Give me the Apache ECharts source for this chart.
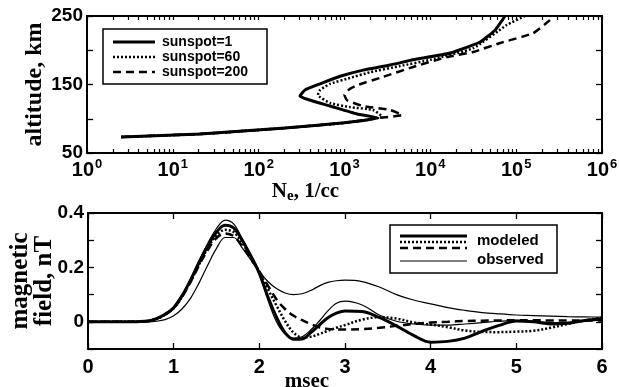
<!DOCTYPE html>
<html>
<head>
<meta charset="utf-8">
<script src="https://cdn.jsdelivr.net/npm/echarts@6/dist/echarts.min.js"></script>
<style>
  html, body { margin: 0; padding: 0; background: #fff; }
  #chart { width: 619px; height: 387px; }
</style>
</head>
<body>
<div id="chart"></div>
<script>
// ---- top panel: electron density profiles (Ne, altitude km) ----
const sunspotNames = ['sunspot=1', 'sunspot=60', 'sunspot=200']
const neSunspot1 = [[2.5, 73.4], [20.8, 77.7], [203, 86.5], [1000, 94], [2460, 101], [1400, 107], [680, 118.6],
    [400, 127], [303, 133], [347, 142], [520, 151], [890, 162], [1650, 171], [3400, 178.5], [6300, 186],
    [17000, 196], [38000, 212], [57000, 229.6], [69000, 244], [74000, 250]]
const neSunspot60 = [[2.5, 73.4], [20.8, 77.7], [203, 86.5], [1000, 94], [2460, 101], [2750, 102.6], [2150, 112.8],
    [1150, 117], [680, 123], [490, 134.7], [520, 142], [680, 151], [1150, 159.5], [2000, 168], [4450, 177],
    [10000, 186], [31600, 203], [78000, 237], [126000, 250]]
const neSunspot200 = [[2.5, 73.4], [20.8, 77.7], [203, 86.5], [1000, 94], [2460, 101], [4700, 105.5], [3400, 112.8],
    [1650, 118.6], [1070, 127], [1000, 134.7], [1150, 143.4], [1400, 149], [2800, 161], [6300, 175.6],
    [15600, 190], [31600, 197.5], [65000, 210.6], [158000, 225], [247000, 244], [270000, 250]]
// log axis ticks: one per decade plus the 2..9 minor marks
const decadeTicks = [1, 10, 100, 1000, 10000, 100000, 1000000]
const minorSteps = [2, 3, 4, 5, 6, 7, 8, 9]

// ---- bottom panel: magnetic field (nT) vs time (msec) ----
const timeMs = [0, 0.5, 0.7, 0.8, 0.9, 1.0, 1.1, 1.2, 1.3, 1.4, 1.5, 1.6, 1.7, 1.8, 1.9, 2.0, 2.1, 2.2, 2.3, 2.4,
    2.5, 2.6, 2.7, 2.8, 2.9, 3.0, 3.2, 3.4, 3.6, 3.8, 4.0, 4.2, 4.4, 4.6, 4.8, 5.0, 5.2, 5.4, 5.6, 5.8, 6.0]
const modeled1 = [0, 0, 0.003, 0.012, 0.028, 0.052, 0.097, 0.155, 0.22, 0.28, 0.33, 0.355, 0.345, 0.3, 0.243, 0.178,
    0.092, 0.017, -0.04, -0.064, -0.063, -0.04, -0.012, 0.015, 0.032, 0.04, 0.038, 0.016, -0.015, -0.05, -0.075,
    -0.072, -0.06, -0.035, -0.013, 0.003, 0.0, -0.008, -0.005, 0.005, 0.01]
const modeled2 = [0, 0, 0.003, 0.011, 0.026, 0.05, 0.094, 0.15, 0.213, 0.272, 0.318, 0.338, 0.33, 0.29, 0.24, 0.183,
    0.12, 0.06, 0.003, -0.04, -0.057, -0.055, -0.045, -0.033, -0.022, -0.012, 0.008, 0.017, 0.012, -0.002, -0.01,
    -0.02, -0.032, -0.037, -0.038, -0.036, -0.033, -0.022, -0.008, 0.005, 0.015]
const modeled3 = [0, 0, 0.003, 0.011, 0.026, 0.05, 0.093, 0.148, 0.21, 0.265, 0.308, 0.325, 0.315, 0.278, 0.232, 0.185,
    0.133, 0.083, 0.047, 0.022, 0.006, -0.008, -0.02, -0.026, -0.028, -0.028, -0.027, -0.022, -0.015, -0.008, -0.003,
    0.0, 0.003, 0.004, 0.005, 0.006, 0.006, 0.005, 0.005, 0.005, 0.005]
const observed1 = [0, 0, 0.003, 0.012, 0.03, 0.055, 0.1, 0.16, 0.228, 0.29, 0.343, 0.374, 0.36, 0.305, 0.243, 0.175,
    0.08, 0.0, -0.045, -0.06, -0.055, -0.03, 0.003, 0.04, 0.068, 0.076, 0.062, 0.025, 0.002, -0.008, -0.012,
    -0.012, -0.008, -0.003, 0.002, 0.005, 0.002, -0.003, -0.002, 0.003, 0.006]
const observed2 = [0, 0, 0.0, 0.002, 0.008, 0.022, 0.048, 0.088, 0.145, 0.21, 0.27, 0.31, 0.31, 0.272, 0.228, 0.185,
    0.148, 0.122, 0.106, 0.1, 0.103, 0.115, 0.132, 0.145, 0.151, 0.153, 0.148, 0.128, 0.1, 0.08, 0.066,
    0.052, 0.042, 0.034, 0.029, 0.025, 0.023, 0.021, 0.019, 0.018, 0.017]

const SANS = 'Liberation Sans'
const SERIF = 'Liberation Serif'
const BLACK = '#000'

function zip (xs, ys) {
    return xs.map((x, i) => [x, ys[i]])
}

// all tick positions of the log axis (decades and 2..9 in between)
const logTickValues = []
decadeTicks.forEach((d, i) => {
    logTickValues.push(d)
    if (i < decadeTicks.length - 1) {
        minorSteps.forEach(m => logTickValues.push(d * m))
    }
})

// axis with inward ticks, used for both the labelled and the mirrored sides
function frameAxis (extra) {
    const axis = Object.assign({
        nameMoveOverlap: false,
        axisLine: {show: true, onZero: false, lineStyle: {color: BLACK, width: 2}},
        axisTick: {show: true, inside: true, length: 6, lineStyle: {color: BLACK, width: 1.3}},
        splitLine: {show: false},
        axisLabel: {show: false}
    }, extra)
    if (axis.type === 'log') {
        axis.axisTick = {show: true, inside: true, length: 4, customValues: logTickValues,
            lineStyle: {color: BLACK, width: 1.2}}
    }
    return axis
}

function profileLine (name, data, type, width) {
    return {
        name: name, type: 'line', xAxisIndex: 0, yAxisIndex: 0, data: data,
        showSymbol: false, symbol: 'none', smooth: 0.15, silent: true,
        lineStyle: {color: BLACK, width: width, type: type}
    }
}

function fieldLine (name, values, type, width) {
    return {
        name: name, type: 'line', xAxisIndex: 2, yAxisIndex: 2, data: zip(timeMs, values),
        showSymbol: false, symbol: 'none', smooth: 0.35, silent: true,
        lineStyle: {color: BLACK, width: width, type: type}
    }
}

const logLabel = {
    show: true, margin: 5,
    customValues: decadeTicks,
    formatter: function (v) {
        return '{b|10}{s|' + Math.round(Math.log10(v)) + '}'
    },
    rich: {
        b: {fontFamily: SANS, fontWeight: 'bold', fontSize: 20, color: BLACK},
        s: {fontFamily: SANS, fontWeight: 'bold', fontSize: 13, color: BLACK, padding: [0, 0, 12, 1]}
    }
}

// legend drawn as graphics so that one entry can carry three line samples
function legendLine (x1, x2, y, type, width) {
    return {type: 'line', shape: {x1: x1, y1: y, x2: x2, y2: y}, style: {stroke: BLACK, lineWidth: width, lineDash: type}}
}
function legendText (x, y, text, size) {
    return {type: 'text', x: x, y: y, style: {text: text, fill: BLACK, font: 'bold ' + size + 'px ' + SANS, verticalAlign: 'middle'}}
}

const chart = echarts.init(document.getElementById('chart'), null, {renderer: 'canvas'})
chart.setOption({
    backgroundColor: '#fff',
    animation: false,
    grid: [
        {left: 87, right: 17, top: 16, height: 137, containLabel: false, outerBoundsMode: 'none'},
        {left: 88, right: 17, top: 213, height: 136, containLabel: false, outerBoundsMode: 'none'}
    ],
    xAxis: [
        frameAxis({
            type: 'log', logBase: 10, min: 1, max: 1000000, gridIndex: 0, position: 'bottom',
            axisLabel: logLabel,
            name: '{n|N}{sub|e}{n|, 1/cc}', nameLocation: 'middle', nameGap: 26,
            nameTextStyle: {
                padding: [0, 78, 0, 0],
                rich: {
                    n: {fontFamily: SERIF, fontWeight: 'bold', fontSize: 21, color: BLACK},
                    sub: {fontFamily: SERIF, fontWeight: 'bold', fontSize: 15, color: BLACK, padding: [10, 0, 0, 0]}
                }
            }
        }),
        frameAxis({type: 'log', logBase: 10, min: 1, max: 1000000, gridIndex: 0, position: 'top'}),
        frameAxis({
            type: 'value', min: 0, max: 6, interval: 1, gridIndex: 1, position: 'bottom',
            axisLabel: {show: true, margin: 8, fontFamily: SANS, fontWeight: 'bold', fontSize: 20, color: BLACK},
            name: 'msec', nameLocation: 'middle', nameGap: 22,
            nameTextStyle: {fontFamily: SERIF, fontWeight: 'bold', fontSize: 21, color: BLACK, padding: [0, 76, 0, 0]}
        }),
        frameAxis({type: 'value', min: 0, max: 6, interval: 1, gridIndex: 1, position: 'top'})
    ],
    yAxis: [
        frameAxis({
            type: 'value', min: 50, max: 250, interval: 50, gridIndex: 0, position: 'left',
            axisLabel: {
                show: true, margin: 4, fontFamily: SANS, fontWeight: 'bold', fontSize: 19, color: BLACK,
                formatter: v => (v % 100 === 50 ? String(v) : '')
            },
            name: 'altitude, km', nameLocation: 'middle', nameRotate: 90, nameGap: 40,
            nameTextStyle: {fontFamily: SERIF, fontWeight: 'bold', fontSize: 24, color: BLACK}
        }),
        frameAxis({type: 'value', min: 50, max: 250, interval: 50, gridIndex: 0, position: 'right'}),
        frameAxis({
            type: 'value', min: -0.1, max: 0.4, interval: 0.1, gridIndex: 1, position: 'left',
            axisLabel: {
                show: true, margin: 4, fontFamily: SANS, fontWeight: 'bold', fontSize: 19, color: BLACK,
                formatter: function (v) {
                    const r = Math.round(v * 10)
                    return (r >= 0 && r % 2 === 0) ? String(r / 10) : ''
                }
            },
            name: 'magnetic\nfield, nT', nameLocation: 'middle', nameRotate: 90, nameGap: 31,
            nameTextStyle: {fontFamily: SERIF, fontWeight: 'bold', fontSize: 25, lineHeight: 24, color: BLACK}
        }),
        frameAxis({type: 'value', min: -0.1, max: 0.4, interval: 0.1, gridIndex: 1, position: 'right'})
    ],
    series: [
        profileLine(sunspotNames[0], neSunspot1, 'solid', 3),
        profileLine(sunspotNames[1], neSunspot60, [2, 2], 2.5),
        profileLine(sunspotNames[2], neSunspot200, [8, 5], 2.5),
        fieldLine('observed', observed1, 'solid', 1.2),
        fieldLine('observed 2', observed2, 'solid', 1.2),
        fieldLine('modeled 1', modeled1, 'solid', 3),
        fieldLine('modeled 2', modeled2, [2, 2], 2.5),
        fieldLine('modeled 3', modeled3, [8, 5], 2.5)
    ],
    graphic: [
        // top legend
        {type: 'rect', shape: {x: 103, y: 29, width: 164, height: 55}, style: {fill: '#fff', stroke: BLACK, lineWidth: 1.5}},
        legendLine(113, 155, 42, null, 3),
        legendLine(113, 155, 57, [2, 2], 2.5),
        legendLine(113, 155, 72, [8, 5], 2.5),
        legendText(162, 42, sunspotNames[0], 14),
        legendText(162, 57, sunspotNames[1], 14),
        legendText(162, 72, sunspotNames[2], 14),
        // bottom legend
        {type: 'rect', shape: {x: 390, y: 225, width: 167, height: 48}, style: {fill: '#fff', stroke: BLACK, lineWidth: 1.5}},
        legendLine(400, 467, 236, null, 3),
        legendLine(400, 467, 242, [2, 2], 2.5),
        legendLine(400, 467, 248, [8, 5], 2.5),
        legendLine(400, 467, 261, null, 1.2),
        legendText(477, 241, 'modeled', 15),
        legendText(477, 260, 'observed', 15)
    ]
})
</script>
</body>
</html>
